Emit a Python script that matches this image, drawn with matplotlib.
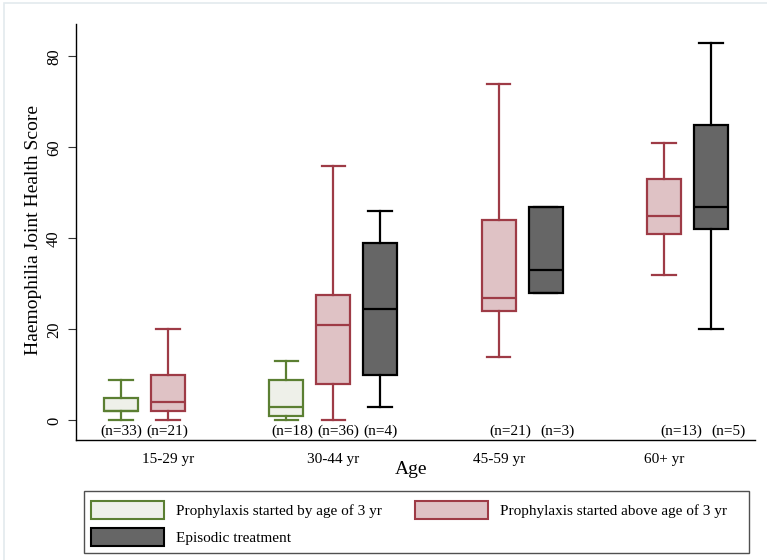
import matplotlib
matplotlib.use('Agg')
import matplotlib.pyplot as plt
from matplotlib.patches import Patch, Rectangle

plt.rcParams['font.family'] = ['Liberation Serif', 'DejaVu Serif']

# categories and series
age_groups = ['15-29 yr', '30-44 yr', '45-59 yr', '60+ yr']
series_names = ['Prophylaxis started by age of 3 yr',
                'Prophylaxis started above age of 3 yr',
                'Episodic treatment']

# box summaries: [min, q1, median, q3, max], None = no box
early_stats = [[0, 2, 2, 5, 9], [0, 1, 3, 9, 13], None, None]
late_stats = [[0, 2, 4, 10, 20], [0, 8, 21, 27.5, 56], [14, 24, 27, 44, 74], [32, 41, 45, 53, 61]]
episodic_stats = [None, [3, 10, 24.5, 39, 46], [28, 28, 33, 47, 47], [20, 42, 47, 65, 83]]

# number of patients per box
early_n = [33, 18, None, None]
late_n = [21, 36, 21, 13]
episodic_n = [None, 4, 3, 5]

all_stats = [early_stats, late_stats, episodic_stats]
all_n = [early_n, late_n, episodic_n]

# styles
edge_cols = ['#5b7f32', '#9e3b46', '#000000']
fill_cols = ['#eef0e9', '#dfc2c5', '#666666']
box_shift = [-0.284, 0.0, 0.284]
# where the (n=..) texts sit, relative to the group centre
n_shift = [[-0.284, -0.248, 0, 0],
           [-0.006, 0.03, 0.07, 0.106],
           [0, 0.287, 0.355, 0.39]]

W, H = 767, 560
fig = plt.figure(figsize=(W / 100, H / 100), dpi=100)
fig.patches.append(Rectangle((4 / W, -0.1), 1.2, 1.1 - 3 / H, transform=fig.transFigure,
                             fill=False, edgecolor='#e3eaee', lw=1.2))

ax = fig.add_axes([76 / W, 1 - 440 / H, 679 / W, 416 / H])

for s in range(3):
    stats = []
    pos = []
    for g in range(len(age_groups)):
        v = all_stats[s][g]
        if v is None:
            continue
        stats.append({'whislo': v[0], 'q1': v[1], 'med': v[2], 'q3': v[3],
                      'whishi': v[4], 'fliers': []})
        pos.append(g + 1 + box_shift[s])
    lw = 1.6
    ax.bxp(stats, positions=pos, widths=0.207, capwidths=0.143, patch_artist=True,
           showfliers=False, manage_ticks=False,
           boxprops=dict(facecolor=fill_cols[s], edgecolor=edge_cols[s], linewidth=lw),
           medianprops=dict(color=edge_cols[s], linewidth=lw),
           whiskerprops=dict(color=edge_cols[s], linewidth=lw),
           capprops=dict(color=edge_cols[s], linewidth=lw))
    for g in range(len(age_groups)):
        n = all_n[s][g]
        if n is None:
            continue
        ax.text(g + 1 + n_shift[s][g], -2.3, '(n=%d)' % n, ha='center', va='center',
                fontsize=11)

ax.set_xlim(0.4435, 4.5505)
ax.set_ylim(-4.29, 87.14)

ax.set_xticks(range(1, len(age_groups) + 1))
ax.set_xticklabels(age_groups, fontsize=11)
ax.tick_params(axis='x', length=0, pad=9)
ax.set_yticks([0, 20, 40, 60, 80])
ax.set_yticklabels(['0', '20', '40', '60', '80'], fontsize=12, rotation=90, va='center')
ax.tick_params(axis='y', length=6, width=0.8, pad=4, color='#333333')

ax.spines['top'].set_visible(False)
ax.spines['right'].set_visible(False)
ax.spines['left'].set_linewidth(1.0)
ax.spines['bottom'].set_linewidth(1.0)

ax.set_xlabel('Age', fontsize=14, va='center')
ax.xaxis.set_label_coords(0.493, -0.072)
ax.set_ylabel('Haemophilia Joint Health Score', fontsize=14, va='center', ha='center')
ax.yaxis.set_label_coords(-0.0619, 0.505)

# legend: frame drawn separately so it spans the full width
fig.patches.append(Rectangle((84 / W, 1 - 553 / H), 665 / W, 62.3 / H,
                             transform=fig.transFigure, fill=False,
                             edgecolor='#505050', lw=1.0))
handles = [Patch(facecolor=fill_cols[i], edgecolor=edge_cols[i], linewidth=1.5,
                 label=series_names[i]) for i in [0, 2, 1]]
fig.legend(handles=handles, loc='upper left', bbox_to_anchor=(91 / W, 1 - 500.5 / H),
           frameon=False, ncol=2, fontsize=11, handlelength=4.78, handleheight=1.5,
           handletextpad=0.78, columnspacing=2.16, labelspacing=0.55,
           borderpad=0, borderaxespad=0)

fig.savefig('out.png', dpi=100)
